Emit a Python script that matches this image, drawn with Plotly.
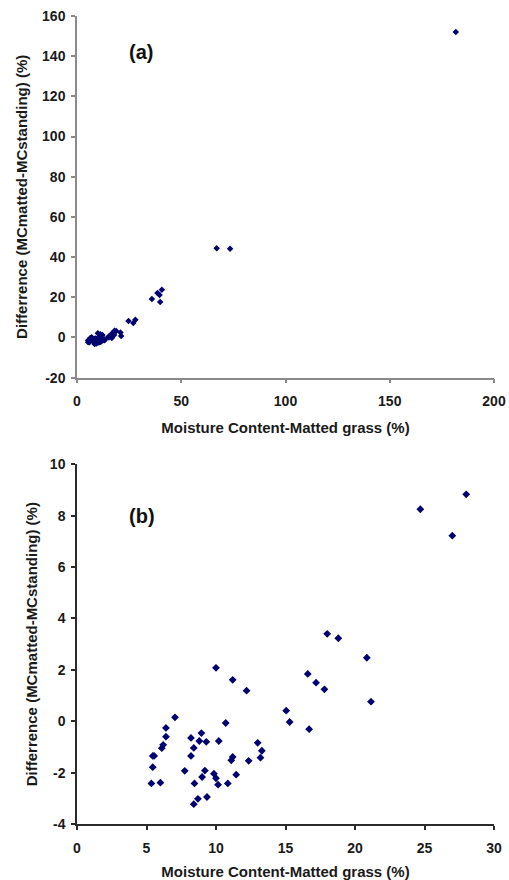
import plotly.graph_objects as go

# Panel (b) data: Moisture content matted grass (%) vs difference (%)
mc_b = [24.7, 27.0, 28.0, 18.0, 18.8, 20.85, 21.15, 16.6, 17.2, 17.8, 15.05, 15.3, 16.7,
        10.0, 11.2, 12.2, 7.05, 6.4, 6.4, 6.2, 6.1, 5.45, 5.55, 5.45, 5.35, 6.0, 7.75,
        8.2, 8.95, 8.8, 9.3, 8.4, 8.2, 10.2, 10.7, 9.2, 9.0, 9.85, 10.0, 10.15, 10.85,
        8.45, 11.45, 8.4, 8.7, 9.35, 11.1, 11.2, 12.35, 13.0, 13.3, 13.2]
diff_b = [8.25, 7.22, 8.83, 3.40, 3.23, 2.47, 0.76, 1.84, 1.50, 1.24, 0.41, -0.03, -0.31,
          2.08, 1.61, 1.19, 0.15, -0.26, -0.60, -0.92, -1.05, -1.35, -1.35, -1.79, -2.42, -2.39, -1.93,
          -0.65, -0.46, -0.77, -0.80, -1.04, -1.35, -0.77, -0.07, -1.92, -2.17, -2.04, -2.22, -2.47, -2.42,
          -2.42, -2.08, -3.23, -3.02, -2.95, -1.52, -1.39, -1.54, -0.84, -1.15, -1.42]

# Extra high-moisture points only visible in panel (a)
mc_extra = [35.9, 38.6, 39.6, 39.9, 40.7, 67.0, 73.4, 181.7]
diff_extra = [19.1, 22.1, 21.2, 17.6, 23.7, 44.4, 44.1, 152.0]

mc_a = mc_b + mc_extra
diff_a = diff_b + diff_extra

xticks_a = [0, 50, 100, 150, 200]
yticks_a = [-20, 0, 20, 40, 60, 80, 100, 120, 140, 160]
xticks_b = [0, 5, 10, 15, 20, 25, 30]
yticks_b = [-4, -2, 0, 2, 4, 6, 8, 10]

x_title = "Moisture Content-Matted grass (%)"
y_title = "Differrence (MCmatted-MCstanding) (%)"

navy = "#000070"
fig = go.Figure()
fig.add_trace(go.Scatter(x=mc_a, y=diff_a, mode="markers", xaxis="x", yaxis="y",
                         marker=dict(symbol="diamond", size=5, color=navy), showlegend=False))
fig.add_trace(go.Scatter(x=mc_b, y=diff_b, mode="markers", xaxis="x2", yaxis="y2",
                         marker=dict(symbol="diamond", size=6, color=navy), showlegend=False))

FAM = "Liberation Sans, Arial"
tickfont = dict(family=FAM, size=14, color="#1a1a1a", weight="bold")
titlefont = dict(family=FAM, size=15, color="#1a1a1a", weight="bold")

def ax(domain, rng, ticks, color, anchor, title, standoff, lblstandoff):
    return dict(domain=domain, range=rng, tickvals=ticks, ticktext=[str(t) for t in ticks],
                showgrid=False, zeroline=False, showline=True, linecolor=color, linewidth=1.5,
                ticks="outside", ticklen=4, tickcolor=color, tickwidth=1.5, tickfont=tickfont,
                ticklabelstandoff=lblstandoff, automargin=False, anchor=anchor,
                title=dict(text=title, font=titlefont, standoff=standoff))

fig.update_layout(
    width=509, height=880, margin=dict(l=77, r=15, t=16, b=56, autoexpand=False),
    paper_bgcolor="white", plot_bgcolor="white",
    xaxis=ax([0, 1], [0, 200], xticks_a, "#8a8a8a", "y", x_title, 14, 6),
    yaxis=ax([0.5524, 1.0], [-20, 160], yticks_a, "#8a8a8a", "x", y_title, 11, 3),
    xaxis2=ax([0, 1], [0, 30], xticks_b, "#2a2a2a", "y2", x_title, 13, 6),
    yaxis2=ax([0.0, 0.4452], [-4, 10], yticks_b, "#2a2a2a", "x2", y_title, 9, 3),
    annotations=[
        dict(text="(a)", x=30.8, y=142, xref="x", yref="y", showarrow=False,
             font=dict(family=FAM, size=20, color="#111", weight="bold")),
        dict(text="(b)", x=4.64, y=8.0, xref="x2", yref="y2", showarrow=False,
             font=dict(family=FAM, size=20, color="#111", weight="bold")),
    ],
)
fig.write_html("out.html", config={"displayModeBar": False},
               post_script="document.body.style.margin='0';document.body.style.overflow='hidden';")
